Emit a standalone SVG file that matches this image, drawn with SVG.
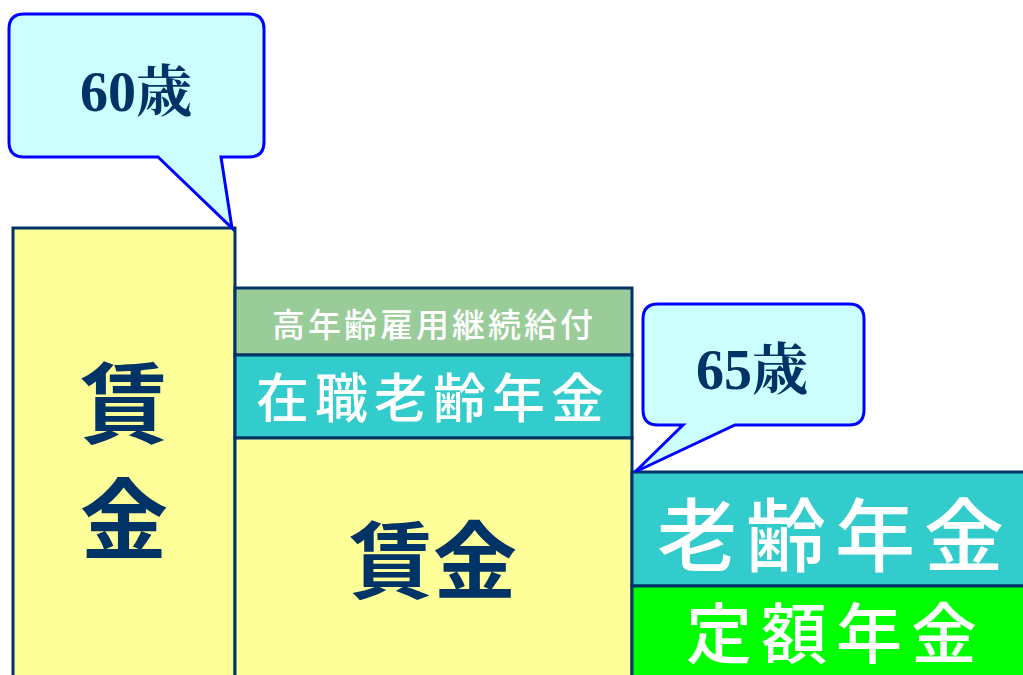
<svg xmlns="http://www.w3.org/2000/svg" width="1023" height="675" viewBox="0 0 1023 675">
<style>
.box{stroke:#003366;stroke-width:3}
.call{fill:#CCFFFF;stroke:#0000FF;stroke-width:3;stroke-linejoin:miter}
.navy{fill:#003366;font-family:"Noto Sans CJK JP","Noto Sans CJK SC",sans-serif;font-weight:bold;text-anchor:middle}
.age{fill:#003366;font-family:"Liberation Serif","Noto Serif CJK JP","Noto Sans CJK JP",serif;font-weight:bold;text-anchor:middle;font-size:56px}
.wt{fill:#FFFFFF;font-family:"Noto Sans CJK JP","Noto Sans CJK SC",sans-serif;font-weight:500;text-anchor:middle}
</style>
<rect width="1023" height="675" fill="#FFFFFF"/>
<g id="wage-left">
<rect class="box" x="13" y="228" width="222" height="460" fill="#FFFF99"/>
<text class="navy" x="124" y="436" font-size="88">賃</text>
<text class="navy" x="124" y="552" font-size="88">金</text>
</g>
<g id="koyo">
<rect class="box" x="235" y="288" width="397" height="67" fill="#99CC99"/>
<text class="wt" x="434" y="337" font-size="33" letter-spacing="3">高年齢雇用継続給付</text>
</g>
<g id="zaishoku">
<rect class="box" x="235" y="355" width="397" height="83" fill="#33CCCC"/>
<text class="wt" x="433" y="418" font-size="53" letter-spacing="6">在職老齢年金</text>
</g>
<g id="wage-mid">
<rect class="box" x="235" y="438" width="397" height="250" fill="#FFFF99"/>
<text class="navy" x="433" y="592" font-size="84">賃金</text>
</g>
<g id="rourei">
<rect class="box" x="632" y="472" width="400" height="114" fill="#33CCCC"/>
<text class="wt" x="835" y="565" font-size="80" letter-spacing="9">老齢年金</text>
</g>
<g id="teigaku">
<rect class="box" x="632" y="586" width="400" height="100" fill="#00FF00"/>
<text class="wt" x="836" y="658" font-size="66" letter-spacing="9">定額年金</text>
</g>
<g id="callout60">
<path class="call" d="M24,14 H249 Q264,14 264,29 V142 Q264,157 249,157 H221 L232,228 L158,157 H24 Q9,157 9,142 V29 Q9,14 24,14 Z"/>
<text class="age" x="136" y="111">60歳</text>
</g>
<g id="callout65">
<path class="call" d="M658,304 H849 Q864,304 864,319 V410 Q864,425 849,425 H735 L635,472 L683,425 H658 Q643,425 643,410 V319 Q643,304 658,304 Z"/>
<text class="age" x="752" y="389">65歳</text>
</g>
<g id="connectors"></g>
</svg>
